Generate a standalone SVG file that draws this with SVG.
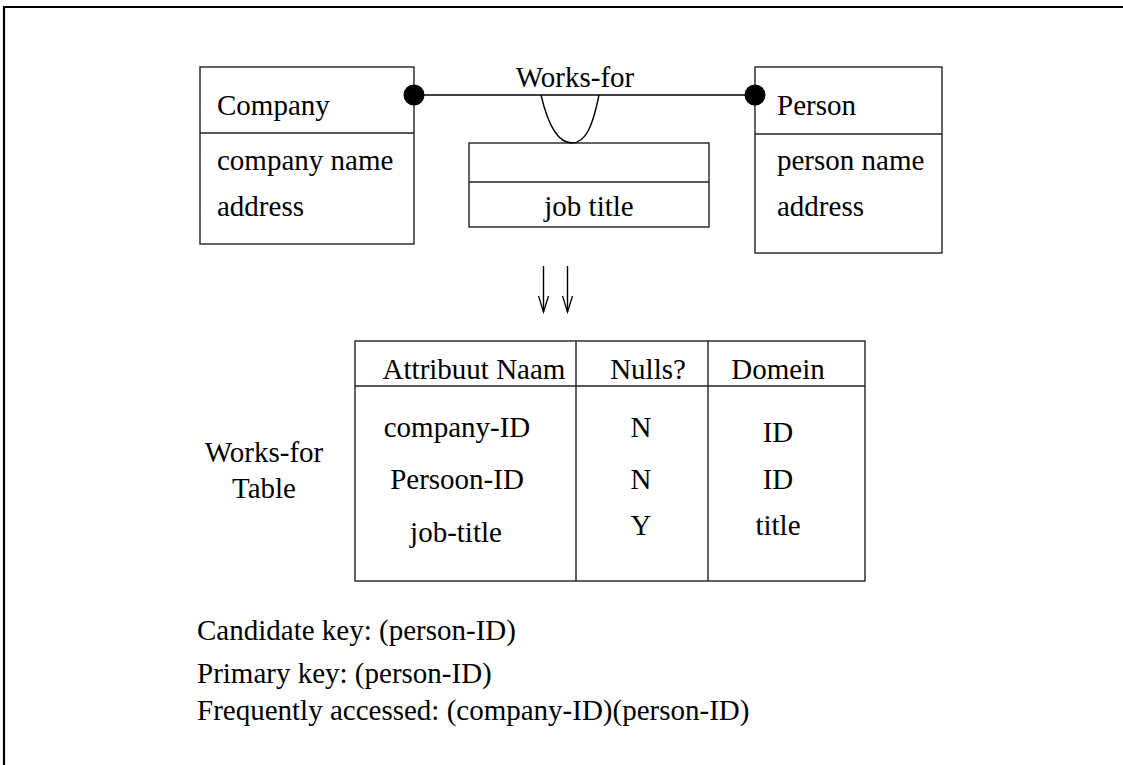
<svg xmlns="http://www.w3.org/2000/svg" width="1123" height="765" viewBox="0 0 1123 765">
<style>
text{font-family:"Liberation Serif","Times New Roman",serif;font-size:29px;fill:#000}
.box{fill:none;stroke:#222;stroke-width:1.4}
.ln{fill:none;stroke:#000;stroke-width:1.4}
.mid{text-anchor:middle}
</style>
<defs>
<marker id="vee" markerWidth="18" markerHeight="12" refX="16" refY="6" orient="auto" markerUnits="userSpaceOnUse" viewBox="0 0 18 12">
<path d="M0,1 L16,6 L0,11" fill="none" stroke="#000" stroke-width="1.3"/>
</marker>
</defs>
<rect width="1123" height="765" fill="#fff"/>
<path d="M4,765 V7 H1123" fill="none" stroke="#000" stroke-width="2.2"/>
<g id="company">
<rect class="box" x="200" y="67" width="214" height="177"/>
<line class="box" x1="200" y1="133" x2="414" y2="133"/>
<text x="217" y="115">Company</text>
<text x="217" y="170">company name</text>
<text x="217" y="216">address</text>
</g>
<g id="person">
<rect class="box" x="755" y="67" width="187" height="186"/>
<line class="box" x1="755" y1="134" x2="942" y2="134"/>
<text x="777" y="115">Person</text>
<text x="777" y="170">person name</text>
<text x="777" y="216">address</text>
</g>
<g id="jobbox">
<rect class="box" x="469" y="143" width="240" height="84"/>
<line class="box" x1="469" y1="182" x2="709" y2="182"/>
<text class="mid" x="589" y="216">job title</text>
</g>
<g id="connectors">
<line class="ln" x1="414" y1="95" x2="755" y2="95"/>
<circle cx="414" cy="95" r="10.5" fill="#000"/>
<circle cx="755" cy="95" r="10.5" fill="#000"/>
<path class="ln" d="M541,95 C548,125 558,143 572,143 C586,143 593,125 599,95"/>
<text class="mid" x="575" y="87">Works-for</text>
<line class="ln" x1="543.5" y1="266" x2="543.5" y2="312" marker-end="url(#vee)" stroke-width="1.2"/>
<line class="ln" x1="567.5" y1="266" x2="567.5" y2="312" marker-end="url(#vee)" stroke-width="1.2"/>
</g>
<g id="table">
<rect class="box" x="355" y="341" width="510" height="240"/>
<line class="box" x1="355" y1="386" x2="865" y2="386"/>
<line class="box" x1="576" y1="341" x2="576" y2="581"/>
<line class="box" x1="708" y1="341" x2="708" y2="581"/>
<text class="mid" x="474" y="379">Attribuut Naam</text>
<text class="mid" x="648" y="379">Nulls?</text>
<text class="mid" x="778" y="379">Domein</text>
<text class="mid" x="457" y="437">company-ID</text>
<text class="mid" x="641" y="437">N</text>
<text class="mid" x="778" y="442">ID</text>
<text class="mid" x="457" y="489">Persoon-ID</text>
<text class="mid" x="641" y="489">N</text>
<text class="mid" x="778" y="489">ID</text>
<text class="mid" x="456" y="542">job-title</text>
<text class="mid" x="641" y="535">Y</text>
<text class="mid" x="778" y="535">title</text>
</g>
<g id="tablelabel">
<text class="mid" x="264" y="462">Works-for</text>
<text class="mid" x="264" y="498">Table</text>
</g>
<g id="keys">
<text x="197" y="640">Candidate key: (person-ID)</text>
<text x="197" y="683">Primary key: (person-ID)</text>
<text x="197" y="720">Frequently accessed: (company-ID)(person-ID)</text>
</g>
</svg>
